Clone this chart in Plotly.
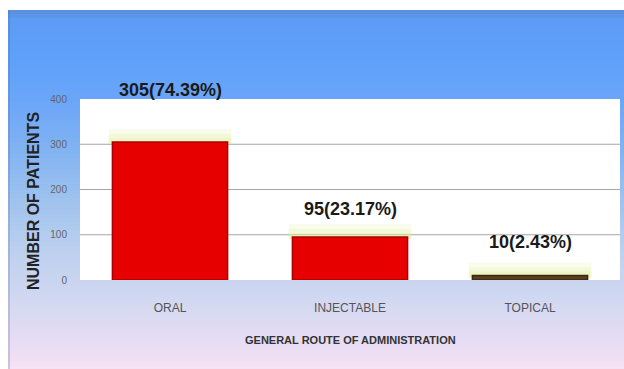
import plotly.graph_objects as go

# Data
routes = ["ORAL", "INJECTABLE", "TOPICAL"]
patients = [305, 95, 10]
percents = [74.39, 23.17, 2.43]
y_ticks = [0, 100, 200, 300, 400]

bar_colors = ["#e60000", "#e60000", "#5a3e1e"]
bar_edges = ["#a80000", "#a80000", "#3a2810"]
label_shift = [52, 28, 33]  # label lift above each bar, px

W, H = 624, 369
ML, MR, MT, MB = 80, 4, 99, 89
PW, PH = W - ML - MR, H - MT - MB


def pxx(px):
    return (px - ML) / PW


def pxy(py):
    return (H - MB - py) / PH


def hex_rgb(h):
    h = h.lstrip("#")
    return tuple(int(h[i:i + 2], 16) for i in (0, 2, 4))


# vertical background gradient stops: (pixel y, colour)
stops = [(10, "#5b8ddc"), (20, "#5c9cf5"), (60, "#5fa0fb"), (100, "#6aa6f8"),
         (150, "#82b3f2"), (200, "#9fc2ee"), (250, "#bcd0ef"), (300, "#d2d8f1"),
         (340, "#e6dcf4"), (369, "#f6e2f4")]


def grad(py):
    for (y0, c0), (y1, c1) in zip(stops[:-1], stops[1:]):
        if y0 <= py <= y1:
            t = (py - y0) / (y1 - y0)
            a, b = hex_rgb(c0), hex_rgb(c1)
            return "rgb(%d,%d,%d)" % tuple(round(a[k] + (b[k] - a[k]) * t) for k in range(3))
    return stops[-1][1]


shapes = []
step = 4
for py in range(10, H, step):
    shapes.append(dict(type="rect", xref="paper", yref="paper", layer="below",
                       x0=pxx(8), x1=pxx(W + 2), y0=pxy(min(py + step + 1, H + 2)), y1=pxy(py),
                       fillcolor=grad(py + step / 2), line=dict(width=0)))
# faint darker left edge of the panel
shapes.append(dict(type="rect", xref="paper", yref="paper", layer="below",
                   x0=pxx(8), x1=pxx(10), y0=pxy(H + 2), y1=pxy(10),
                   fillcolor="rgba(90,100,150,0.25)", line=dict(width=0)))
# white plotting area
shapes.append(dict(type="rect", xref="paper", yref="paper", layer="below",
                   x0=0, x1=1, y0=0, y1=1, fillcolor="white", line=dict(width=0)))
# gridlines
for v in y_ticks[1:-1]:
    shapes.append(dict(type="line", xref="paper", yref="y", layer="below",
                       x0=0, x1=1, y0=v, y1=v, line=dict(color="#a6a6a6", width=1)))
# soft yellow-green glow over each bar top
for i, v in enumerate(patients):
    for h, a in [(13, 0.18), (8, 0.22), (4, 0.25)]:
        shapes.append(dict(type="rect", xref="x", yref="y", layer="below",
                           x0=i - 0.34, x1=i + 0.34, ysizemode="pixel", yanchor=v,
                           y0=-2, y1=h, fillcolor="rgba(222,236,150,%.2f)" % a,
                           line=dict(width=0)))

fig = go.Figure(go.Bar(
    x=list(range(len(routes))), y=patients, width=0.64,
    marker=dict(color=bar_colors, line=dict(color=bar_edges, width=1.5)),
    hoverinfo="skip",
))

sans = "Liberation Sans, Arial, sans-serif"
annotations = []
for i, (v, p) in enumerate(zip(patients, percents)):
    annotations.append(dict(x=i, y=v, xref="x", yref="y", yshift=label_shift[i],
                            text="<b>%d(%.2f%%)</b>" % (v, p), showarrow=False,
                            xanchor="center", yanchor="middle",
                            font=dict(family=sans, size=18, color="#1a1a1a")))
annotations.append(dict(x=pxx(33), y=pxy(201), xref="paper", yref="paper",
                        xanchor="center", yanchor="middle",
                        text="<b>NUMBER OF PATIENTS</b>", textangle=-90, showarrow=False,
                        font=dict(family=sans, size=16, color="#222")))
annotations.append(dict(x=pxx(350), y=pxy(340), xref="paper", yref="paper",
                        xanchor="center", yanchor="middle",
                        text="<b>GENERAL ROUTE OF ADMINISTRATION</b>", showarrow=False,
                        font=dict(family=sans, size=11, color="#333")))

fig.update_layout(
    width=W, height=H, margin=dict(l=ML, r=MR, t=MT, b=MB),
    paper_bgcolor="white", plot_bgcolor="white",
    shapes=shapes, annotations=annotations, showlegend=False,
    xaxis=dict(range=[-0.5, 2.5], tickvals=list(range(len(routes))), ticktext=routes,
               showgrid=False, zeroline=False, showline=False,
               ticks="outside", ticklen=17, tickcolor="rgba(0,0,0,0)",
               tickfont=dict(family=sans, size=12, color="#555")),
    yaxis=dict(range=[0, 400], tickvals=y_ticks, showgrid=False, zeroline=False,
               showline=False, ticks="outside", ticklen=10, tickcolor="rgba(0,0,0,0)",
               tickfont=dict(family=sans, size=10, color="#666")),
)

fig.write_html("out.html")
